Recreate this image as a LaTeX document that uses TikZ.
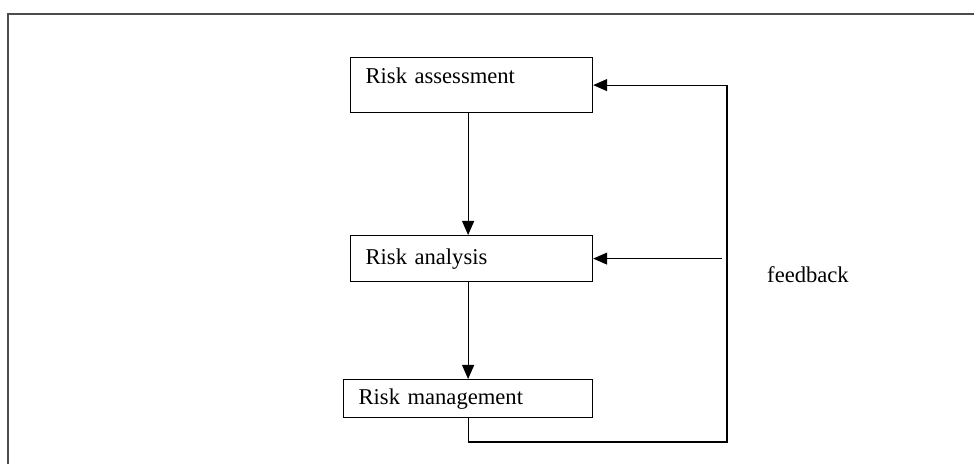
\documentclass[tikz,border=0pt]{standalone}
\usepackage{fontspec}
\setmainfont{Liberation Serif}
\usetikzlibrary{arrows.meta,positioning}
\tikzset{
  riskbox/.style={draw,line width=0.6pt,anchor=north west,align=left,inner xsep=7.5pt,inner ysep=0pt,
    text height=8pt,text depth=2.5pt,font=\fontsize{11.3}{13}\selectfont},
  flow/.style={line width=0.55pt,-{Triangle[length=7pt,width=6pt]}},
  back/.style={line width=0.55pt}
}
\begin{document}
\begin{tikzpicture}[x=0.5pt,y=-0.5pt]
\useasboundingbox (0,0) rectangle (974,464);
\draw[line width=1pt,black!70] (8,464) -- (8,14) -- (974,14);

\node[riskbox,text width=106pt,minimum height=27.5pt,text depth=9.5pt] (assess) at (350,57) {Risk assessment};
\node[riskbox,text width=106pt,minimum height=23pt] (analysis) at (350,235) {Risk analysis};
\node[riskbox,text width=109.5pt,minimum height=19pt] (manage) at (343,379) {Risk management};
\node[font=\fontsize{11.3}{13}\selectfont] (fbtext) at (808,275) {feedback};

\draw[flow] (assess.south -| manage.south) -- (analysis.north -| manage.south);
\draw[flow] (analysis.south -| manage.south) -- (manage.north);

\coordinate (fbcorner) at (727,442);
\draw[flow] (manage.south) |- (fbcorner) |- (assess.east);
\draw[flow] ([xshift=-2.5pt]fbcorner |- analysis.east) -- (analysis.east);
\end{tikzpicture}
\end{document}
